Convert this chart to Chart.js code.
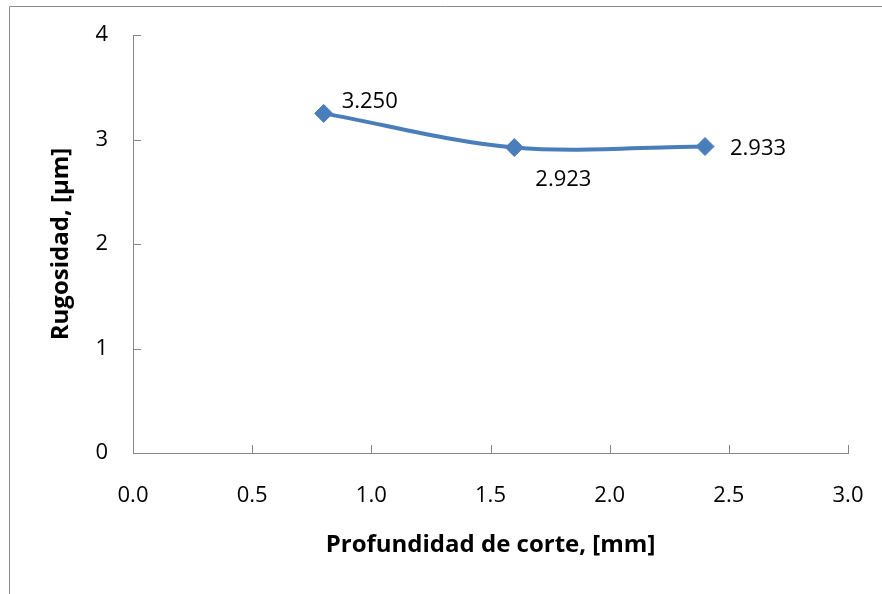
<!DOCTYPE html>
<html>
<head>
<meta charset="utf-8">
<script src="https://cdn.jsdelivr.net/npm/chart.js@4/dist/chart.umd.min.js"></script>
<style>
  html, body { margin: 0; padding: 0; background: #ffffff; }
  canvas { display: block; }
</style>
</head>
<body>
<canvas id="c" width="882" height="594"></canvas>
<script>
// ---- data ----
const depthMm = [0.8, 1.6, 2.4];
const roughnessUm = [3.250, 2.923, 2.933];
const roughnessLabels = ['3.250', '2.923', '2.933'];
const xTickValues = [0, 0.5, 1, 1.5, 2, 2.5, 3];
const yTickValues = [0, 1, 2, 3, 4];
const xTitle = 'Profundidad de corte, [mm]';
const yTitle = 'Rugosidad, [µm]';

const FONT = '"Open Sans", "DejaVu Sans", sans-serif';
const AXIS_COLOR = '#868686';
const LINE_COLOR = '#4A7EBB';

// label offsets (style only): dx, dy relative to point
const labelOffsets = [[18, -13], [21, 30], [25, 0]];

const frame = {
  id: 'frame',
  beforeDraw(chart) {
    const ctx = chart.ctx;
    ctx.save();
    ctx.fillStyle = '#ffffff';
    ctx.fillRect(0, 0, chart.width, chart.height);
    ctx.strokeStyle = '#8a8a8a';
    ctx.lineWidth = 1;
    ctx.beginPath();
    ctx.moveTo(9.5, chart.height);
    ctx.lineTo(9.5, 6.5);
    ctx.lineTo(chart.width, 6.5);
    ctx.stroke();
    ctx.restore();
  }
};

const innerTicks = {
  id: 'innerTicks',
  beforeDatasetsDraw(chart) {
    const ctx = chart.ctx;
    const xs = chart.scales.x, ys = chart.scales.y;
    const area = chart.chartArea;
    ctx.save();
    ctx.strokeStyle = AXIS_COLOR;
    ctx.lineWidth = 1;
    ctx.beginPath();
    xTickValues.forEach(v => {
      const px = Math.round(xs.getPixelForValue(v)) + 0.5;
      ctx.moveTo(px, area.bottom);
      ctx.lineTo(px, area.bottom - 8);
    });
    yTickValues.forEach(v => {
      const py = Math.round(ys.getPixelForValue(v)) + 0.5;
      ctx.moveTo(area.left, py);
      ctx.lineTo(area.left + 8, py);
    });
    ctx.stroke();
    ctx.restore();
  }
};

const pointLabels = {
  id: 'pointLabels',
  afterDatasetsDraw(chart) {
    const ctx = chart.ctx;
    const meta = chart.getDatasetMeta(0);
    ctx.save();
    ctx.font = '22px ' + FONT;
    ctx.fillStyle = '#000000';
    ctx.textAlign = 'left';
    ctx.textBaseline = 'alphabetic';
    meta.data.forEach((el, i) => {
      const off = labelOffsets[i];
      ctx.fillText(roughnessLabels[i], el.x + off[0], el.y + off[1] + 8);
    });
    ctx.restore();
  }
};

new Chart(document.getElementById('c'), {
  type: 'line',
  data: {
    datasets: [{
      data: depthMm.map((x, i) => ({ x: x, y: roughnessUm[i] })),
      borderColor: LINE_COLOR,
      backgroundColor: LINE_COLOR,
      borderWidth: 4,
      tension: 0.33,
      pointStyle: 'rectRot',
      pointRadius: 9,
      pointBorderWidth: 1,
      pointBackgroundColor: LINE_COLOR,
      pointBorderColor: LINE_COLOR,
      fill: false
    }]
  },
  options: {
    responsive: false,
    devicePixelRatio: 1,
    animation: false,
    layout: { padding: { left: 0, top: 35, right: 34, bottom: 0 } },
    plugins: { legend: { display: false }, tooltip: { enabled: false } },
    scales: {
      x: {
        type: 'linear',
        min: 0, max: 3,
        afterBuildTicks(scale) { scale.ticks = xTickValues.map(v => ({ value: v })); },
        afterFit(scale) {
          scale.height = 141;
          scale.paddingLeft = 0; scale.paddingRight = 0;
        },
        grid: { display: true, drawOnChartArea: false, drawTicks: false },
        border: { display: true, color: AXIS_COLOR, width: 1 },
        ticks: {
          padding: 30,
          color: '#000000',
          font: { family: FONT, size: 22 },
          callback: v => Number(v).toFixed(1)
        },
        title: {
          display: true,
          text: xTitle,
          color: '#000000',
          font: { family: FONT, size: 24, weight: 'bold' },
          padding: { top: 0, bottom: 34 }
        }
      },
      y: {
        type: 'linear',
        min: 0, max: 4,
        afterBuildTicks(scale) { scale.ticks = yTickValues.map(v => ({ value: v })); },
        afterFit(scale) {
          scale.width = 133;
          scale.paddingTop = 0; scale.paddingBottom = 0;
        },
        grid: { display: true, drawOnChartArea: false, drawTicks: false },
        border: { display: true, color: AXIS_COLOR, width: 1 },
        ticks: {
          padding: 25,
          color: '#000000',
          font: { family: FONT, size: 22 },
          callback: v => String(v)
        },
        title: {
          display: true,
          text: yTitle,
          color: '#000000',
          font: { family: FONT, size: 24, weight: 'bold' },
          padding: { top: 47, bottom: 0 }
        }
      }
    }
  },
  plugins: [frame, innerTicks, pointLabels]
});
</script>
</body>
</html>
